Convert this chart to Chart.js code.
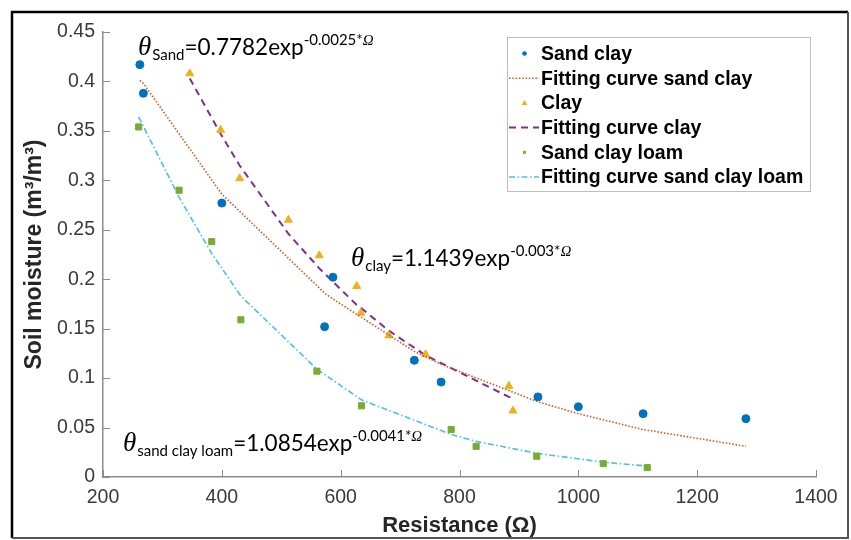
<!DOCTYPE html>
<html>
<head>
<meta charset="utf-8">
<script src="https://cdn.jsdelivr.net/npm/chart.js@4.4.0/dist/chart.umd.min.js"></script>
<style>
html,body{margin:0;padding:0;background:#fff;}
</style>
</head>
<body>
<canvas id="myChart" width="851" height="540"></canvas>
<script>
"use strict";

// resistance (ohm) and soil moisture
let sandClayX=[262,268,400,573,587,724,769,932,1000,1109,1282];
let sandClayY=[0.417,0.388,0.277,0.152,0.202,0.118,0.096,0.081,0.071,0.064,0.059];
let sandClayFit=[0.401,0.398,0.286,0.186,0.180,0.127,0.114,0.076,0.064,0.048,0.031];

let clayX=[346,398,430,512,564,627,634,681,743,883,890];
let clayY=[0.408,0.351,0.302,0.260,0.224,0.193,0.166,0.143,0.124,0.092,0.067];
let clayFit=[0.403,0.347,0.315,0.246,0.211,0.174,0.171,0.148,0.123,0.081,0.080];

let loamX=[260,328,383,432,560,635,786,828,930,1042,1116];
let loamY=[0.354,0.290,0.238,0.159,0.107,0.072,0.048,0.031,0.021,0.0135,0.0095];
let loamFit=[0.364,0.283,0.226,0.183,0.109,0.078,0.043,0.036,0.024,0.015,0.011];

let xTicks=[200,400,600,800,1000,1200,1400];
let xTickLabels=["200","400","600","800","1000","1200","1400"];
let yTicks=[0,0.05,0.1,0.15,0.2,0.25,0.3,0.35,0.4,0.45];
let yTickLabels=["0","0.05","0.1","0.15","0.2","0.25","0.3","0.35","0.4","0.45"];

function pts(xs, ys) { return xs.map(function (x, i) { return {x: x, y: ys[i]}; }); }

function dots(label, xs, ys, color, style, r) {
    return {label: label, data: pts(xs, ys), showLine: false, pointStyle: style, pointRadius: r,
        backgroundColor: color, borderColor: color, borderWidth: 1};
}
function curve(label, xs, ys, color, dash, w) {
    return {label: label, data: pts(xs, ys), showLine: true, pointRadius: 0, fill: false, tension: 0,
        borderColor: color, borderWidth: w, borderDash: dash, backgroundColor: color};
}

let datasets=[
    dots("Sand clay", sandClayX, sandClayY, "#0072BD", "circle", 4),
    curve("Fitting curve sand clay", sandClayX, sandClayFit, "#D95319", [1.5, 1.8], 1.6),
    dots("Clay", clayX, clayY, "#EDB120", "triangle", 4.6),
    curve("Fitting curve clay", clayX, clayFit, "#7E2F8E", [7, 5], 2),
    dots("Sand clay loam", loamX, loamY, "#77AC30", "rect", 4.3),
    curve("Fitting curve sand clay loam", loamX, loamFit, "#4DBEEE", [6, 2.5, 1.5, 2.5], 1.6)
];

function drawEq(ctx, x, y, sub, main, sup) {
    ctx.save();
    ctx.fillStyle="#000";
    ctx.textAlign="left";
    ctx.textBaseline="alphabetic";
    ctx.font='italic 27px "Liberation Serif"';
    ctx.fillText("\u03b8", x, y);
    x+=ctx.measureText("\u03b8").width+1;
    ctx.font='15px Lato';
    ctx.fillText(sub, x, y+5);
    x+=ctx.measureText(sub).width;
    ctx.font='22.5px Lato';
    ctx.fillText(main, x, y);
    x+=ctx.measureText(main).width;
    ctx.font='15px Lato';
    ctx.fillText(sup, x, y-10);
    x+=ctx.measureText(sup).width;
    ctx.font='italic 15px "Liberation Serif"';
    ctx.fillText("\u03a9", x, y-10);
    ctx.restore();
}

let extras={
    id: "extras",
    afterDraw: function (chart) {
        let ctx=chart.ctx;
        let xs=chart.scales.x, ys=chart.scales.y, a=chart.chartArea;

        // inward ticks
        ctx.save();
        ctx.strokeStyle="#8c8c8c";
        ctx.lineWidth=1;
        ctx.beginPath();
        xTicks.forEach(function (v) {
            let px=Math.round(xs.getPixelForValue(v))+0.5;
            ctx.moveTo(px, a.bottom); ctx.lineTo(px, a.bottom-7);
        });
        yTicks.forEach(function (v) {
            let py=Math.round(ys.getPixelForValue(v))+0.5;
            ctx.moveTo(a.left, py); ctx.lineTo(a.left+7, py);
        });
        ctx.stroke();
        ctx.restore();

        // equations
        drawEq(ctx, 138, 55, "Sand", "=0.7782exp", "-0.0025*");
        drawEq(ctx, 351, 266, "clay", "=1.1439exp", "-0.003*");
        drawEq(ctx, 123, 451, "sand clay loam", "=1.0854exp", "-0.0041*");

        // legend
        ctx.save();
        ctx.fillStyle="#fff";
        ctx.fillRect(507, 37, 303, 154);
        ctx.strokeStyle="#bdbdbd";
        ctx.lineWidth=1;
        ctx.strokeRect(507.5, 37.5, 303, 154);
        chart.data.datasets.forEach(function (ds, i) {
            let cy=53.5+i*24.7;
            ctx.setLineDash([]);
            if (ds.showLine) {
                ctx.strokeStyle=ds.borderColor;
                ctx.lineWidth=ds.borderWidth;
                ctx.setLineDash(ds.borderDash);
                ctx.beginPath(); ctx.moveTo(509, cy); ctx.lineTo(539, cy); ctx.stroke();
                ctx.setLineDash([]);
            } else {
                ctx.fillStyle=ds.backgroundColor;
                ctx.beginPath();
                if (ds.pointStyle==="circle") ctx.arc(524.5, cy, 2.3, 0, Math.PI*2);
                else if (ds.pointStyle==="triangle") { ctx.moveTo(524.5, cy-3); ctx.lineTo(527.5, cy+2); ctx.lineTo(521.5, cy+2); ctx.closePath(); }
                else ctx.rect(523, cy-1.5, 3, 3);
                ctx.fill();
            }
            ctx.fillStyle="#000";
            ctx.font='bold 19.5px "Liberation Sans"';
            ctx.textBaseline="middle";
            ctx.textAlign="left";
            ctx.fillText(ds.label, 541, cy+1);
        });
        ctx.restore();

        // outer frame
        ctx.save();
        ctx.lineWidth=2.5;
        ctx.strokeStyle="#000";
        ctx.beginPath(); ctx.moveTo(12, 538); ctx.lineTo(12, 12); ctx.lineTo(848, 12); ctx.stroke();
        ctx.lineWidth=2;
        ctx.strokeStyle="#555";
        ctx.beginPath(); ctx.moveTo(848, 12); ctx.lineTo(848, 538); ctx.lineTo(12, 538); ctx.stroke();
        ctx.restore();
    }
};

Chart.defaults.font.family="Liberation Sans";

let newChart=new Chart(document.getElementById("myChart"), {
    type: "scatter",
    data: {datasets: datasets},
    plugins: [extras],
    options: {
        responsive: false,
        animation: false,
        layout: {padding: {left: 0, top: 32, right: 35, bottom: 0}},
        plugins: {legend: {display: false}, tooltip: {enabled: false}},
        scales: {
            x: {
                type: "linear", min: 200, max: 1400,
                afterBuildTicks: function (s) { s.ticks=xTicks.map(function (v) { return {value: v}; }); },
                afterFit: function (s) { s.height=63; },
                ticks: {color: "#3a3a3a", font: {size: 19.5}, padding: 9, maxRotation: 0, autoSkip: false,
                    callback: function (v, i) { return xTickLabels[i]; }},
                grid: {display: false, drawTicks: false},
                border: {display: true, color: "#8c8c8c", width: 1.5},
                title: {display: true, text: "Resistance (\u03a9)", color: "#262626",
                    font: {size: 22, weight: "bold"}, padding: {top: 0, bottom: 1}}
            },
            y: {
                type: "linear", min: 0, max: 0.45,
                afterBuildTicks: function (s) { s.ticks=yTicks.map(function (v) { return {value: v}; }); },
                afterFit: function (s) { s.width=103; },
                ticks: {color: "#3a3a3a", font: {size: 19.5}, padding: 8, autoSkip: false,
                    callback: function (v, i) { return yTickLabels[i]; }},
                grid: {display: false, drawTicks: false},
                border: {display: true, color: "#8c8c8c", width: 1.5},
                title: {display: true, text: "Soil moisture (m\u00b3/m\u00b3)", color: "#262626",
                    font: {size: 23, weight: "bold"}, padding: {top: 21, bottom: 0}}
            }
        }
    }
});
</script>
</body>
</html>
